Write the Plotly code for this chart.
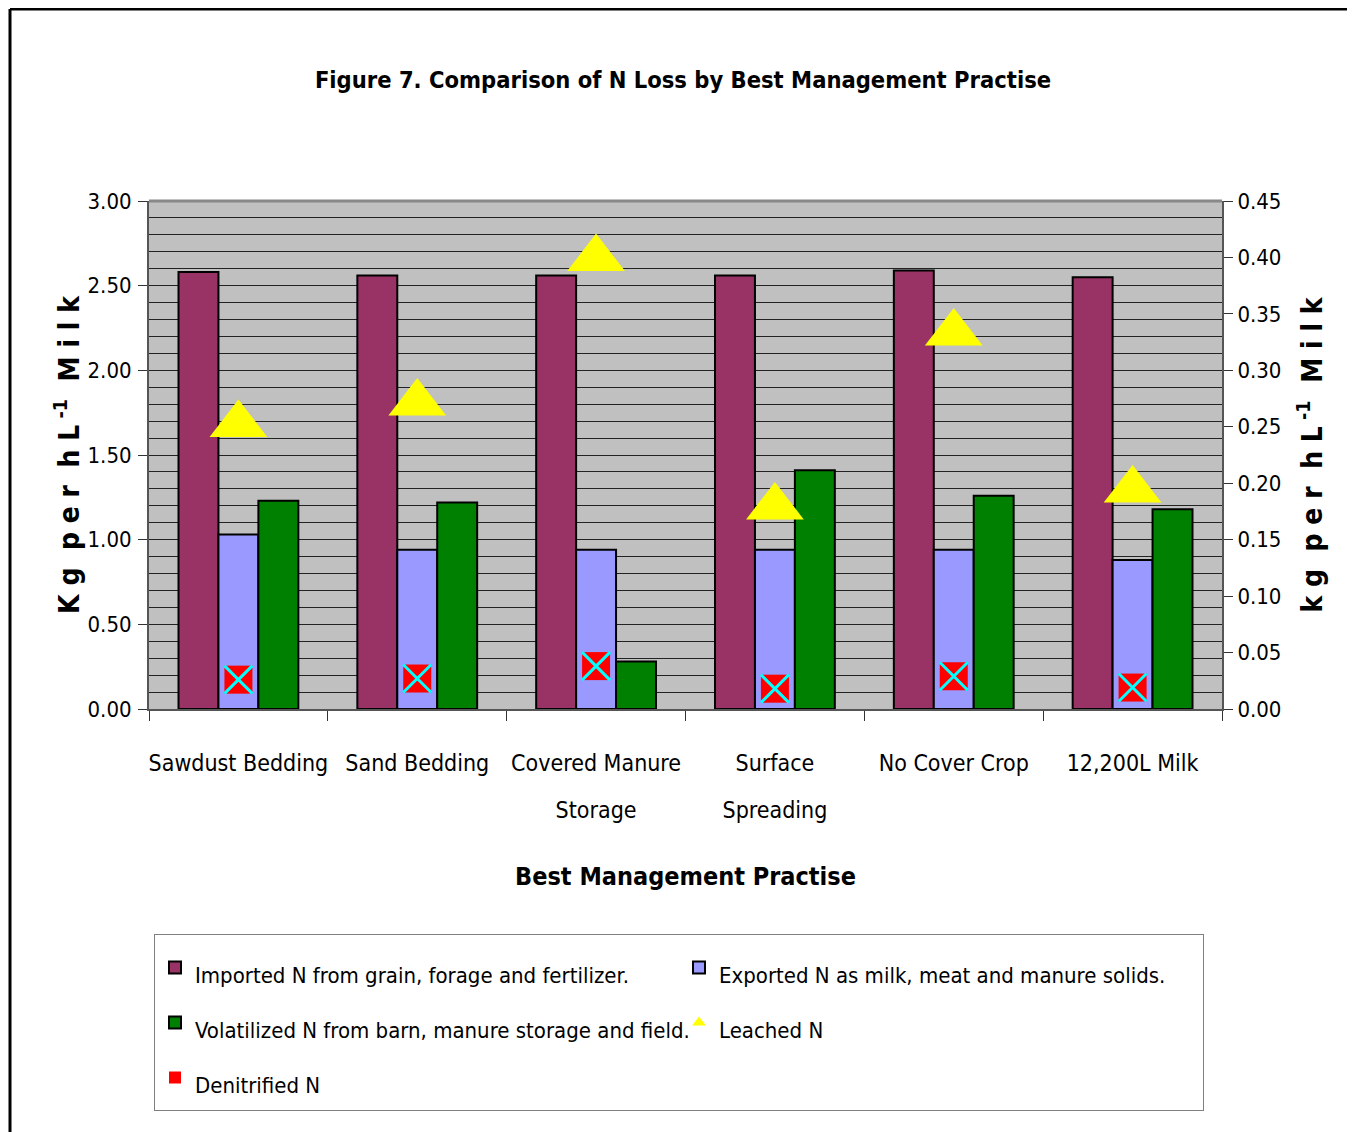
import plotly.graph_objects as go

categories = ["Sawdust Bedding", "Sand Bedding", "Covered Manure<br>Storage",
              "Surface<br>Spreading", "No Cover Crop", "12,200L Milk"]
imported = [2.58, 2.56, 2.56, 2.56, 2.59, 2.55]
exported = [1.03, 0.94, 0.94, 0.94, 0.94, 0.88]
volatilized = [1.23, 1.22, 0.28, 1.41, 1.26, 1.18]
leached = [0.252, 0.271, 0.399, 0.179, 0.333, 0.194]
denitrified = [0.026, 0.027, 0.038, 0.018, 0.029, 0.019]

left_ticks = [0, 0.5, 1.0, 1.5, 2.0, 2.5, 3.0]
right_ticks = [0, 0.05, 0.10, 0.15, 0.20, 0.25, 0.30, 0.35, 0.40, 0.45]

series_names = ["Imported N from grain, forage and fertilizer.",
                "Exported N as milk, meat and manure solids.",
                "Volatilized N from barn, manure storage and field.",
                "Leached N",
                "Denitrified N"]

FONT = "DejaVu Sans Condensed, Liberation Sans Narrow, Arial Narrow, Liberation Sans, sans-serif"
OFF = 8  # page body margin
W, H = 1355 - OFF, 1132 - OFF
L, R, T, B = 149 - OFF, 1222 - OFF, 201 - OFF, 709 - OFF


def small(txt, size):
    return "<br>".join(f"<span style='font-size:{size}px'>{part}</span>" for part in txt.split("<br>"))


leg = [small(n, 22) for n in series_names]

fig = go.Figure()
fig.add_trace(go.Bar(x=categories, y=imported, name=leg[0],
                     marker=dict(color="#993366", line=dict(color="black", width=2))))
fig.add_trace(go.Bar(x=categories, y=exported, name=leg[1],
                     marker=dict(color="#9999FF", line=dict(color="black", width=2))))
fig.add_trace(go.Bar(x=categories, y=volatilized, name=leg[2],
                     marker=dict(color="#008000", line=dict(color="black", width=2))))
fig.add_trace(go.Scatter(x=categories, y=leached, name=leg[3], mode="markers", yaxis="y2",
                         marker=dict(symbol="triangle-up", size=50, color="#FFFF00",
                                     line=dict(width=0))))
fig.add_trace(go.Scatter(x=categories, y=denitrified, name=leg[4], mode="markers", yaxis="y2",
                         marker=dict(symbol="square", size=28, color="#FF0000",
                                     line=dict(width=0))))
fig.add_trace(go.Scatter(x=categories, y=denitrified, name=leg[4], mode="markers", yaxis="y2",
                         showlegend=False,
                         marker=dict(symbol="x-thin-open", size=28, color="#00FFFF",
                                     line=dict(width=3, color="#00FFFF"))))


def px2x(p):
    return (p - OFF - L) / (R - L)


def px2y(p):
    return (B - (p - OFF)) / (B - T)


fig.update_layout(
    width=W, height=H,
    margin=dict(l=L, r=W - R, t=T, b=H - B),
    paper_bgcolor="white",
    plot_bgcolor="#C0C0C0",
    font=dict(family=FONT, size=24, color="black"),
    barmode="group", bargap=0.33, bargroupgap=0,
    title=dict(text="<b>Figure 7. Comparison of N Loss by Best Management Practise</b>",
               x=px2x(683), xanchor="center", xref="paper",
               y=1 - (80 - OFF) / H, yanchor="middle",
               font=dict(family=FONT, size=23.5)),
    xaxis=dict(showgrid=False, ticks="outside", tickson="boundaries", ticklen=10,
               tickcolor="#333", showline=True, linecolor="#555", linewidth=2,
               tickangle=0, ticklabelstandoff=17,
               tickvals=categories, ticktext=[small(c, 23) for c in categories],
               tickfont=dict(size=36),
               title=dict(text="<b>Best Management Practise</b>", standoff=45,
                          font=dict(size=25))),
    yaxis=dict(range=[0, 3.0], tickvals=left_ticks, ticktext=[f"{v:.2f}" for v in left_ticks],
               ticks="outside", ticklen=9, tickcolor="#333", ticklabelstandoff=2,
               showgrid=True, gridcolor="#222", gridwidth=1,
               minor=dict(dtick=0.1, showgrid=True, gridcolor="#222", gridwidth=1),
               showline=True, linecolor="#555", linewidth=2, zeroline=False,
               tickfont=dict(size=22),
               title=dict(text="<b>K g  p e r  h L<sup> -1</sup>  M i l k</b>", standoff=0,
                          font=dict(size=28))),
    yaxis2=dict(range=[0, 0.45], overlaying="y", side="right",
                tickvals=right_ticks, ticktext=[f"{v:.2f}" for v in right_ticks],
                ticks="outside", ticklen=9, tickcolor="#333", ticklabelstandoff=0,
                showgrid=False, showline=True, linecolor="#555", linewidth=2, zeroline=False,
                tickfont=dict(size=22),
                title=dict(text="<b>k g  p e r  h L<sup> -1</sup>  M i l k</b>", standoff=22,
                           font=dict(size=28))),
    legend=dict(orientation="h", x=px2x(154), y=px2y(934), xanchor="left", yanchor="top",
                bgcolor="white", bordercolor="#808080", borderwidth=1,
                entrywidth=479, traceorder="normal", itemsizing="constant",
                font=dict(size=40), tracegroupgap=0),
    showlegend=True,
    shapes=[
        dict(type="line", xref="paper", yref="paper", x0=px2x(10), x1=px2x(1355),
             y0=px2y(9), y1=px2y(9), line=dict(color="black", width=3)),
        dict(type="line", xref="paper", yref="paper", x0=px2x(10), x1=px2x(10),
             y0=px2y(9), y1=px2y(1132), line=dict(color="black", width=3)),
        dict(type="line", xref="paper", yref="paper", x0=0, x1=1, y0=1, y1=1,
             line=dict(color="#888", width=3)),
    ],
)

fig.write_html("out.html")
